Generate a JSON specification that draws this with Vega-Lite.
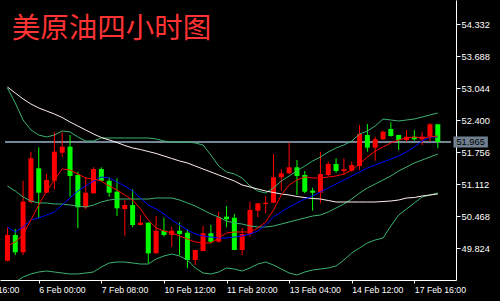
{
"$schema":"https://vega.github.io/schema/vega-lite/v6.json",
"width":456,"height":280,
"autosize":{"type":"none"},
"padding":{"left":0,"top":0,"right":44,"bottom":21},
"background":"#000000",
"config":{"view":{"stroke":null},
 "axis":{"grid":false,"title":null,"labelOverlap":false,"labelFlush":false,"labelBound":false,"labelColor":"#ffffff","labelFont":"Liberation Sans","tickColor":"#ffffff","domainColor":"#ffffff"},
 "axisX":{"labelAlign":"left","labelBaseline":"top","labelPadding":2,"labelFontSize":8.7,"tickSize":3,"tickCount":30},
 "axisY":{"labelPadding":1,"labelFontSize":9.3,"tickSize":4,"tickCount":30}},
"data":{"values":[
{"i":0,"o":49.574,"h":50.247,"l":49.560,"c":50.092,"r":49.870,"b":50.253,"w":53.070,"u":53.050,"m":51.078,"d":49.085},
{"i":1,"o":50.092,"h":50.212,"l":49.689,"c":49.744,"r":49.951,"b":50.152,"w":52.949,"u":52.748,"m":50.977,"d":49.146},
{"i":2,"o":49.744,"h":51.184,"l":49.689,"c":50.762,"r":50.092,"b":50.253,"w":52.829,"u":52.406,"m":50.856,"d":49.246},
{"i":3,"o":50.750,"h":51.768,"l":50.730,"c":51.635,"r":50.394,"b":50.394,"w":52.728,"u":52.205,"m":50.776,"d":49.307},
{"i":4,"o":51.434,"h":51.857,"l":50.428,"c":50.943,"r":50.695,"b":50.434,"w":52.648,"u":52.104,"m":50.736,"d":49.347},
{"i":5,"o":50.943,"h":51.319,"l":50.935,"c":51.199,"r":50.977,"b":50.494,"w":52.587,"u":52.064,"m":50.736,"d":49.367},
{"i":6,"o":51.184,"h":52.159,"l":51.011,"c":51.768,"r":51.199,"b":50.555,"w":52.527,"u":52.104,"m":50.716,"d":49.347},
{"i":7,"o":51.748,"h":52.159,"l":51.667,"c":51.869,"r":51.420,"b":50.695,"w":52.456,"u":52.185,"m":50.716,"d":49.327},
{"i":8,"o":51.869,"h":52.104,"l":50.862,"c":51.279,"r":51.400,"b":50.836,"w":52.366,"u":52.165,"m":50.695,"d":49.307},
{"i":9,"o":51.299,"h":51.366,"l":50.227,"c":50.649,"r":51.319,"b":50.977,"w":52.285,"u":52.064,"m":50.675,"d":49.307},
{"i":10,"o":50.649,"h":51.253,"l":50.609,"c":50.943,"r":51.239,"b":51.078,"w":52.205,"u":51.983,"m":50.655,"d":49.327},
{"i":11,"o":50.931,"h":51.454,"l":50.925,"c":51.420,"r":51.219,"b":51.178,"w":52.124,"u":51.983,"m":50.695,"d":49.347},
{"i":12,"o":51.420,"h":51.454,"l":51.170,"c":51.184,"r":51.178,"b":51.259,"w":52.054,"u":52.044,"m":50.756,"d":49.448},
{"i":13,"o":51.184,"h":51.253,"l":50.862,"c":50.943,"r":51.078,"b":51.239,"w":52.004,"u":52.044,"m":50.796,"d":49.528},
{"i":14,"o":50.963,"h":51.233,"l":50.474,"c":50.629,"r":50.997,"b":51.158,"w":51.953,"u":52.044,"m":50.816,"d":49.548},
{"i":15,"o":50.615,"h":50.796,"l":50.078,"c":50.695,"r":50.897,"b":51.078,"w":51.893,"u":52.044,"m":50.816,"d":49.548},
{"i":16,"o":50.695,"h":51.011,"l":50.247,"c":50.293,"r":50.796,"b":50.977,"w":51.843,"u":52.044,"m":50.816,"d":49.528},
{"i":17,"o":50.293,"h":50.494,"l":50.285,"c":50.339,"r":50.615,"b":50.836,"w":51.812,"u":52.044,"m":50.816,"d":49.508},
{"i":18,"o":50.339,"h":50.345,"l":49.522,"c":49.723,"r":50.394,"b":50.695,"w":51.772,"u":52.044,"m":50.816,"d":49.508},
{"i":19,"o":49.723,"h":50.474,"l":49.715,"c":50.178,"r":50.233,"b":50.615,"w":51.732,"u":52.024,"m":50.836,"d":49.609},
{"i":20,"o":50.178,"h":50.440,"l":50.058,"c":50.092,"r":50.172,"b":50.514,"w":51.682,"u":51.983,"m":50.836,"d":49.669},
{"i":21,"o":50.092,"h":50.259,"l":49.856,"c":50.178,"r":50.132,"b":50.394,"w":51.631,"u":51.963,"m":50.836,"d":49.709},
{"i":22,"o":50.178,"h":50.347,"l":49.689,"c":50.112,"r":50.072,"b":50.293,"w":51.581,"u":51.963,"m":50.796,"d":49.669},
{"i":23,"o":50.138,"h":50.206,"l":49.422,"c":49.589,"r":50.011,"b":50.192,"w":51.541,"u":51.963,"m":50.736,"d":49.589},
{"i":24,"o":49.589,"h":49.790,"l":49.488,"c":49.790,"r":49.951,"b":50.112,"w":51.480,"u":51.943,"m":50.675,"d":49.428},
{"i":25,"o":49.770,"h":50.273,"l":49.765,"c":50.126,"r":49.931,"b":50.072,"w":51.420,"u":51.903,"m":50.595,"d":49.327},
{"i":26,"o":50.126,"h":50.293,"l":49.925,"c":49.957,"r":49.931,"b":50.051,"w":51.360,"u":51.702,"m":50.514,"d":49.307},
{"i":27,"o":49.957,"h":50.561,"l":49.937,"c":50.448,"r":50.031,"b":50.031,"w":51.299,"u":51.480,"m":50.454,"d":49.347},
{"i":28,"o":50.460,"h":50.675,"l":50.247,"c":50.408,"r":50.132,"b":50.031,"w":51.239,"u":51.360,"m":50.373,"d":49.428},
{"i":29,"o":50.440,"h":50.514,"l":49.785,"c":49.790,"r":50.152,"b":50.051,"w":51.178,"u":51.319,"m":50.333,"d":49.407},
{"i":30,"o":49.790,"h":50.232,"l":49.689,"c":50.112,"r":50.152,"b":50.072,"w":51.098,"u":51.239,"m":50.313,"d":49.367},
{"i":31,"o":50.112,"h":50.762,"l":50.058,"c":50.595,"r":50.152,"b":50.112,"w":51.058,"u":51.078,"m":50.273,"d":49.428},
{"i":32,"o":50.581,"h":50.735,"l":50.448,"c":50.730,"r":50.233,"b":50.172,"w":51.017,"u":50.977,"m":50.253,"d":49.508},
{"i":33,"o":50.716,"h":50.877,"l":50.528,"c":50.742,"r":50.353,"b":50.293,"w":50.977,"u":50.937,"m":50.253,"d":49.548},
{"i":34,"o":50.742,"h":51.722,"l":50.730,"c":51.253,"r":50.595,"b":50.454,"w":50.947,"u":51.037,"m":50.273,"d":49.488},
{"i":35,"o":51.253,"h":51.414,"l":50.983,"c":51.333,"r":50.897,"b":50.555,"w":50.917,"u":51.178,"m":50.313,"d":49.407},
{"i":36,"o":51.333,"h":51.949,"l":51.319,"c":51.454,"r":51.098,"b":50.655,"w":50.897,"u":51.279,"m":50.353,"d":49.327},
{"i":37,"o":51.454,"h":51.601,"l":50.897,"c":51.279,"r":51.199,"b":50.736,"w":50.866,"u":51.380,"m":50.394,"d":49.287},
{"i":38,"o":51.299,"h":51.380,"l":50.931,"c":50.963,"r":51.259,"b":50.816,"w":50.846,"u":51.480,"m":50.434,"d":49.347},
{"i":39,"o":50.983,"h":51.044,"l":50.581,"c":50.943,"r":51.239,"b":50.877,"w":50.826,"u":51.581,"m":50.474,"d":49.387},
{"i":40,"o":50.943,"h":51.768,"l":50.730,"c":51.319,"r":51.239,"b":50.957,"w":50.816,"u":51.661,"m":50.494,"d":49.407},
{"i":41,"o":51.299,"h":51.567,"l":51.279,"c":51.521,"r":51.259,"b":51.037,"w":50.786,"u":51.762,"m":50.555,"d":49.428},
{"i":42,"o":51.521,"h":51.635,"l":51.345,"c":51.380,"r":51.279,"b":51.118,"w":50.756,"u":51.843,"m":50.635,"d":49.468},
{"i":43,"o":51.380,"h":51.635,"l":51.299,"c":51.414,"r":51.319,"b":51.199,"w":50.756,"u":51.903,"m":50.716,"d":49.589},
{"i":44,"o":51.386,"h":51.567,"l":51.366,"c":51.500,"r":51.400,"b":51.279,"w":50.756,"u":51.983,"m":50.816,"d":49.729},
{"i":45,"o":51.480,"h":52.305,"l":51.400,"c":52.124,"r":51.521,"b":51.360,"w":50.756,"u":52.124,"m":50.937,"d":49.830},
{"i":46,"o":52.104,"h":52.326,"l":51.768,"c":51.849,"r":51.661,"b":51.440,"w":50.756,"u":52.185,"m":51.037,"d":49.931},
{"i":47,"o":51.849,"h":52.070,"l":51.587,"c":52.018,"r":51.782,"b":51.500,"w":50.756,"u":52.285,"m":51.118,"d":49.991},
{"i":48,"o":52.018,"h":52.191,"l":52.004,"c":52.171,"r":51.863,"b":51.561,"w":50.766,"u":52.426,"m":51.199,"d":50.031},
{"i":49,"o":52.225,"h":52.360,"l":52.070,"c":52.084,"r":51.943,"b":51.621,"w":50.776,"u":52.406,"m":51.279,"d":50.273},
{"i":50,"o":52.104,"h":52.110,"l":51.802,"c":52.004,"r":52.004,"b":51.682,"w":50.796,"u":52.386,"m":51.380,"d":50.494},
{"i":51,"o":52.004,"h":52.205,"l":51.969,"c":52.070,"r":52.044,"b":51.762,"w":50.836,"u":52.406,"m":51.460,"d":50.615},
{"i":52,"o":52.070,"h":52.205,"l":51.989,"c":52.018,"r":52.064,"b":51.863,"w":50.846,"u":52.426,"m":51.541,"d":50.736},
{"i":53,"o":52.018,"h":52.171,"l":51.903,"c":52.070,"r":52.044,"b":51.983,"w":50.877,"u":52.466,"m":51.601,"d":50.856},
{"i":54,"o":52.070,"h":52.340,"l":51.969,"c":52.320,"r":52.064,"b":52.064,"w":50.897,"u":52.507,"m":51.661,"d":50.897},
{"i":55,"o":52.320,"h":52.325,"l":51.837,"c":51.965,"r":52.084,"b":52.064,"w":50.917,"u":52.547,"m":51.722,"d":50.937}
]},
"layer":[
{"mark":{"type":"rule","color":"#778899","strokeWidth":1},
 "encoding":{
  "x":{"datum":-0.3125,"type":"quantitative","scale":{"domain":[-0.3125,56.6875],"nice":false,"zero":false}},
  "x2":{"datum":56.6875},
  "y":{"datum":51.965,"type":"quantitative","scale":{"domain":[49.186,54.821],"nice":false,"zero":false}}}},
{"mark":{"type":"rule","strokeWidth":1},
 "encoding":{
  "x":{"field":"i","type":"quantitative","scale":{"domain":[-0.3125,56.6875],"nice":false,"zero":false},
   "axis":{"orient":"bottom","title":null,"tickCount":30,"values":[4,12,20,28,36,44,52],
    "labelExpr":"datum.value==4?'6 Feb 00:00':datum.value==12?'7 Feb 08:00':datum.value==20?'10 Feb 12:00':datum.value==28?'11 Feb 20:00':datum.value==36?'13 Feb 04:00':datum.value==44?'14 Feb 12:00':'17 Feb 16:00'"}},
  "y":{"field":"l","type":"quantitative","scale":{"domain":[49.186,54.821],"nice":false,"zero":false},
   "axis":{"orient":"right","title":null,"tickCount":30,"values":[49.824,50.468,51.112,51.756,52.4,53.044,53.688,54.332],"format":".3f"}},
  "y2":{"field":"h"},
  "color":{"condition":{"test":"datum.c > datum.o","value":"#ff0000"},"value":"#00ff00"}}},
{"mark":{"type":"bar","size":5},
 "encoding":{
  "x":{"field":"i","type":"quantitative","scale":{"domain":[-0.3125,56.6875],"nice":false,"zero":false}},
  "y":{"field":"o","type":"quantitative","scale":{"domain":[49.186,54.821],"nice":false,"zero":false}},
  "y2":{"field":"c"},
  "color":{"condition":{"test":"datum.c > datum.o","value":"#ff0000"},"value":"#00ff00"}}},
{"mark":{"type":"line","color":"#3cb371","strokeWidth":1,"clip":true},
 "encoding":{
  "x":{"field":"i","type":"quantitative","scale":{"domain":[-0.3125,56.6875],"nice":false,"zero":false}},
  "y":{"field":"u","type":"quantitative","scale":{"domain":[49.186,54.821],"nice":false,"zero":false}}}},
{"mark":{"type":"line","color":"#3cb371","strokeWidth":1,"clip":true},
 "encoding":{
  "x":{"field":"i","type":"quantitative","scale":{"domain":[-0.3125,56.6875],"nice":false,"zero":false}},
  "y":{"field":"m","type":"quantitative","scale":{"domain":[49.186,54.821],"nice":false,"zero":false}}}},
{"mark":{"type":"line","color":"#3cb371","strokeWidth":1,"clip":true},
 "encoding":{
  "x":{"field":"i","type":"quantitative","scale":{"domain":[-0.3125,56.6875],"nice":false,"zero":false}},
  "y":{"field":"d","type":"quantitative","scale":{"domain":[49.186,54.821],"nice":false,"zero":false}}}},
{"mark":{"type":"line","color":"#fff0ec","strokeWidth":1,"clip":true},
 "encoding":{
  "x":{"field":"i","type":"quantitative","scale":{"domain":[-0.3125,56.6875],"nice":false,"zero":false}},
  "y":{"field":"w","type":"quantitative","scale":{"domain":[49.186,54.821],"nice":false,"zero":false}}}},
{"mark":{"type":"line","color":"#0000ff","strokeWidth":1,"clip":true},
 "encoding":{
  "x":{"field":"i","type":"quantitative","scale":{"domain":[-0.3125,56.6875],"nice":false,"zero":false}},
  "y":{"field":"b","type":"quantitative","scale":{"domain":[49.186,54.821],"nice":false,"zero":false}}}},
{"mark":{"type":"line","color":"#ff0000","strokeWidth":1,"clip":true},
 "encoding":{
  "x":{"field":"i","type":"quantitative","scale":{"domain":[-0.3125,56.6875],"nice":false,"zero":false}},
  "y":{"field":"r","type":"quantitative","scale":{"domain":[49.186,54.821],"nice":false,"zero":false}}}},
{"data":{"values":[{"t":"51.965"}]},
 "mark":{"type":"rect","color":"#708090"},
 "encoding":{
  "x":{"datum":57.0,"type":"quantitative","scale":{"domain":[-0.3125,56.6875],"nice":false,"zero":false}},
  "x2":{"datum":61.4},
  "y":{"datum":52.076,"type":"quantitative","scale":{"domain":[49.186,54.821],"nice":false,"zero":false}},
  "y2":{"datum":51.854}}},
{"data":{"values":[{"t":"51.965"}]},
 "mark":{"type":"text","color":"#000000","font":"Liberation Sans","fontSize":9.3,"align":"center","baseline":"middle"},
 "encoding":{
  "x":{"datum":59.2,"type":"quantitative","scale":{"domain":[-0.3125,56.6875],"nice":false,"zero":false}},
  "y":{"datum":51.965,"type":"quantitative","scale":{"domain":[49.186,54.821],"nice":false,"zero":false}},
  "text":{"field":"t"}}},
{"data":{"values":[{"t":"5 Feb 16:00"}]},
 "mark":{"type":"text","color":"#ffffff","font":"Liberation Sans","fontSize":8.7,"align":"left","baseline":"middle"},
 "encoding":{
  "x":{"datum":-4.4,"type":"quantitative","scale":{"domain":[-0.3125,56.6875],"nice":false,"zero":false}},
  "y":{"datum":48.985,"type":"quantitative","scale":{"domain":[49.186,54.821],"nice":false,"zero":false}},
  "text":{"field":"t"}}},
{"data":{"values":[{"t":"美原油四小时图"}]},
 "mark":{"type":"text","color":"#ff3333","font":"Noto Sans CJK SC","fontSize":28.5,"align":"left","baseline":"alphabetic"},
 "encoding":{
  "x":{"datum":0.5625,"type":"quantitative","scale":{"domain":[-0.3125,56.6875],"nice":false,"zero":false}},
  "y":{"datum":54.056,"type":"quantitative","scale":{"domain":[49.186,54.821],"nice":false,"zero":false}},
  "text":{"field":"t"}}}
]
}
